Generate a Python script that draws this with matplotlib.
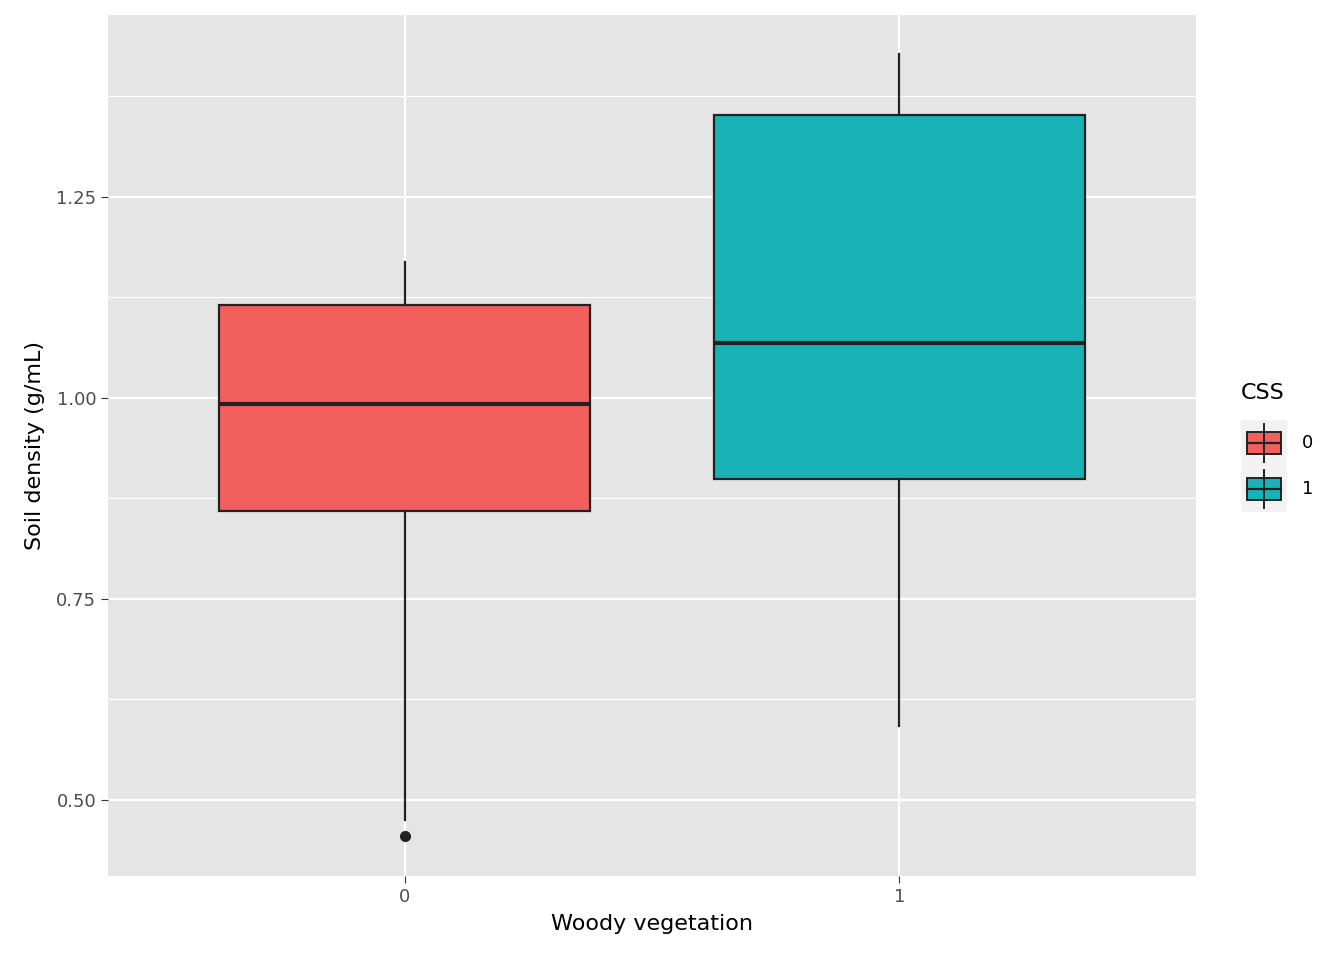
import matplotlib
matplotlib.use("Agg")
import matplotlib.pyplot as plt
from matplotlib.patches import Rectangle
from matplotlib.lines import Line2D

groups = ["0", "1"]
colors = ["#F25F5C", "#19B2B7"]
q1 = [0.8595, 0.899]
med = [0.9925, 1.068]
q3 = [1.1157, 1.352]
whislo = [0.475, 0.592]
whishi = [1.169, 1.428]
outliers = [[0.455], []]

fig = plt.figure(figsize=(13.44, 9.6), dpi=100)
ax = fig.add_axes([108/1344, 1-876/960, (1196-108)/1344, (876-15)/960])
ax.set_facecolor("#E5E5E5")

stats = [dict(q1=q1[i], med=med[i], q3=q3[i], whislo=whislo[i], whishi=whishi[i],
              fliers=outliers[i], label=groups[i]) for i in range(2)]
bp = ax.bxp(stats, positions=[1, 2], widths=0.75, patch_artist=True, showcaps=False,
            boxprops=dict(edgecolor="#222222", linewidth=1.6),
            medianprops=dict(color="#222222", linewidth=3),
            whiskerprops=dict(color="#222222", linewidth=1.6),
            flierprops=dict(marker="o", markerfacecolor="#222222", markeredgecolor="#222222", markersize=7))
for b, c in zip(bp["boxes"], colors):
    b.set_facecolor(c)
    b.set_zorder(3)
for k in ["whiskers", "medians", "fliers"]:
    for a in bp[k]:
        a.set_zorder(3)

ax.set_xlim(0.4, 2.6)
ax.set_ylim(0.4055, 1.476)
ax.set_yticks([0.5, 0.75, 1.0, 1.25])
ax.set_yticklabels(["0.50", "0.75", "1.00", "1.25"])
ax.set_yticks([0.625, 0.875, 1.125, 1.375], minor=True)
ax.grid(True, which="major", color="white", linewidth=1.6, zorder=0)
ax.grid(True, which="minor", axis="y", color="white", linewidth=0.8, zorder=0)
ax.set_axisbelow(True)
for s in ax.spines.values():
    s.set_visible(False)
ax.tick_params(axis="both", which="major", length=5, color="#333333", labelsize=13, labelcolor="#4D4D4D")
ax.tick_params(axis="y", which="minor", length=0)
ax.set_xlabel("Woody vegetation", fontsize=16, labelpad=6)
ax.set_ylabel("Soil density (g/mL)", fontsize=16, labelpad=8)

# legend
fig.text(1241/1344, 1-393/960, "CSS", fontsize=16, va="center", ha="left")
for i, (g, c) in enumerate(zip(groups, colors)):
    yc = 443 + i*46
    fig.add_artist(Rectangle((1241/1344, 1-(yc+23)/960), 46/1344, 46/960,
                             transform=fig.transFigure, facecolor="#F2F2F2", edgecolor="none"))
    fig.add_artist(Line2D([1264/1344]*2, [1-(yc-19)/960, 1-(yc+19)/960],
                          transform=fig.transFigure, color="#222222", lw=1.4))
    fig.add_artist(Rectangle((1247/1344, 1-(yc+11)/960), 34/1344, 22/960,
                             transform=fig.transFigure, facecolor=c, edgecolor="#222222", lw=1.4))
    fig.add_artist(Line2D([1247/1344, 1281/1344], [1-yc/960]*2,
                          transform=fig.transFigure, color="#222222", lw=1.6))
    fig.text(1302/1344, 1-yc/960, g, fontsize=13, va="center", ha="left")

fig.savefig("out.png", dpi=100)
